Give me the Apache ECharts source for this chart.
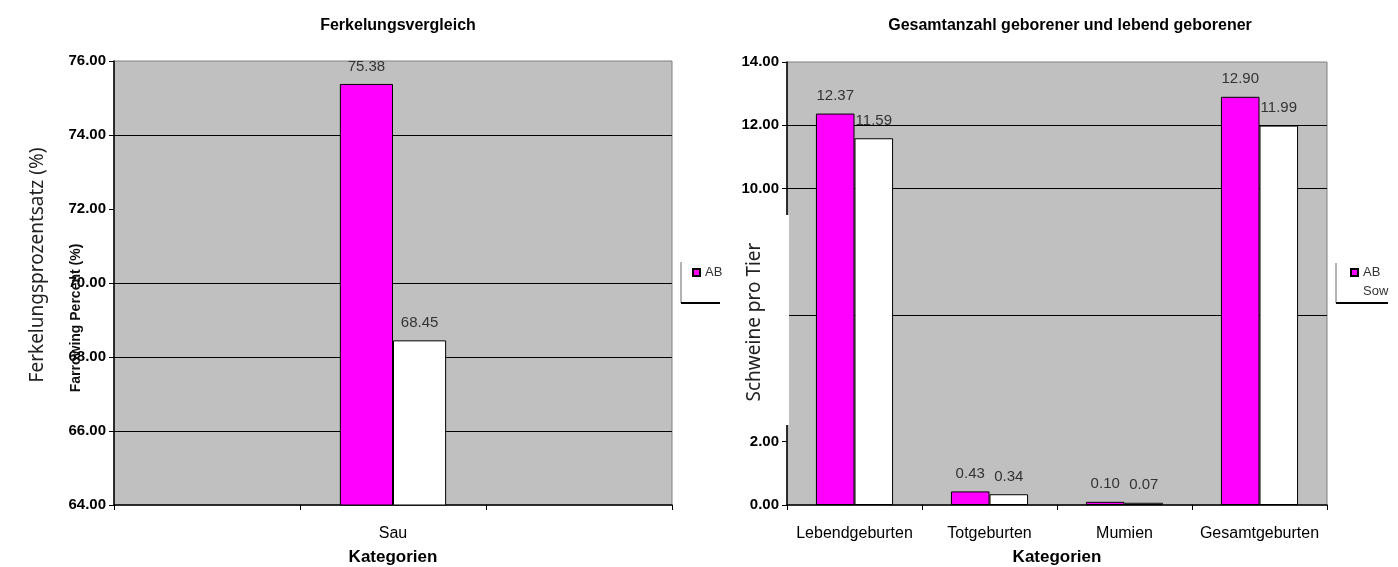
<!DOCTYPE html>
<html lang="de" style="height: 100%">
<head>
  <meta charset="utf-8">
</head>
<body style="height: 100%; margin: 0; background: #fff">
  <div id="container" style="width: 1398px; height: 567px;"></div>

  <script type="text/javascript" src="https://fastly.jsdelivr.net/npm/echarts@6.0.0/dist/echarts.min.js"></script>
  <script type="text/javascript">
    // linkes Diagramm: Ferkelungsvergleich
    var leftCategories = ['', 'Sau', ''];
    var leftAB = [null, 75.38, null];
    var leftSow = [null, 68.45, null];
    var leftTicks = [64, 66, 68, 70, 72, 74, 76];
    var leftGridAt = [66, 68, 70, 74];

    // rechtes Diagramm: Geburten pro Tier
    var rightCategories = ['Lebendgeburten', 'Totgeburten', 'Mumien', 'Gesamtgeburten'];
    var rightAB = [12.37, 0.43, 0.10, 12.90];
    var rightSow = [11.59, 0.34, 0.07, 11.99];
    var rightTicks = [0, 2, 4, 6, 8, 10, 12, 14];
    var rightGridAt = [6, 10, 12];

    var FONT = 'Liberation Sans, Arial, sans-serif';
    var MAGENTA = '#ff00ff';

    var dom = document.getElementById('container');
    var myChart = echarts.init(dom, null, { renderer: 'canvas' });

    function gridColors(ticks, visible) {
      return ticks.map(function (v) {
        return visible.indexOf(v) >= 0 ? '#000' : 'rgba(0,0,0,0)';
      });
    }

    function valueAxis(idx, ticks, visible) {
      return {
        type: 'value',
        gridIndex: idx,
        min: ticks[0],
        max: ticks[ticks.length - 1],
        interval: ticks[1] - ticks[0],
        axisLine: { show: true, lineStyle: { color: '#000', width: 1.5 } },
        axisTick: { show: true, length: 5, lineStyle: { color: '#000' } },
        axisLabel: {
          fontFamily: FONT, fontSize: 15, fontWeight: 'bold', color: '#000', margin: 8,
          formatter: function (v) { return v.toFixed(2); }
        },
        splitLine: { show: true, lineStyle: { color: gridColors(ticks, visible), width: 1 } }
      };
    }

    function catAxis(idx, cats) {
      return {
        type: 'category',
        gridIndex: idx,
        data: cats,
        axisLine: { show: true, lineStyle: { color: '#000', width: 1.5 } },
        axisTick: { show: true, length: 5, alignWithLabel: false, lineStyle: { color: '#000' } },
        axisLabel: { fontFamily: FONT, fontSize: 16, color: '#000', margin: 21, interval: 0 },
        name: 'Kategorien',
        nameLocation: 'middle',
        nameGap: 44,
        nameTextStyle: { fontFamily: FONT, fontSize: 17, fontWeight: 'bold', color: '#000' }
      };
    }

    function barSeries(name, idx, data, color) {
      return {
        name: name,
        type: 'bar',
        xAxisIndex: idx,
        yAxisIndex: idx,
        data: data,
        barGap: '0%',
        barCategoryGap: '42.86%',
        itemStyle: { color: color, borderColor: '#000', borderWidth: 1 },
        label: {
          show: true, position: 'top', distance: 10,
          fontFamily: FONT, fontSize: 15, color: '#333',
          formatter: function (p) { return p.value.toFixed(2); }
        }
      };
    }

    var legendText = { fontFamily: FONT, fontSize: 13, color: '#333' };

    var option = {
      backgroundColor: '#fff',
      animation: false,
      title: [
        { text: 'Ferkelungsvergleich', left: 393, top: 13, textAlign: 'center',
          textStyle: { fontFamily: FONT, fontSize: 16, fontWeight: 'bold', color: '#000' } },
        { text: 'Gesamtanzahl geborener und lebend geborener', left: 1065, top: 13, textAlign: 'center',
          textStyle: { fontFamily: FONT, fontSize: 16, fontWeight: 'bold', color: '#000' } }
      ],
      legend: [
        { data: ['AB'], orient: 'vertical', left: 692, top: 266, padding: 0, icon: 'rect',
          itemWidth: 7, itemHeight: 7, itemGap: 6, textStyle: legendText },
        { data: ['AB', { name: 'Sow', itemStyle: { color: '#fff', borderWidth: 0 } }],
          orient: 'vertical', left: 1350, top: 266, padding: 0, icon: 'rect',
          itemWidth: 7, itemHeight: 7, itemGap: 6, textStyle: legendText }
      ],
      grid: [
        { left: 114, top: 61, width: 558, height: 444, show: true, backgroundColor: '#c0c0c0',
          borderColor: '#808080', borderWidth: 1, outerBoundsMode: 'none' },
        { left: 787, top: 62, width: 540, height: 443, show: true, backgroundColor: '#c0c0c0',
          borderColor: '#808080', borderWidth: 1, outerBoundsMode: 'none' }
      ],
      xAxis: [catAxis(0, leftCategories), catAxis(1, rightCategories)],
      yAxis: [valueAxis(0, leftTicks, leftGridAt), valueAxis(1, rightTicks, rightGridAt)],
      series: [
        barSeries('AB', 0, leftAB, MAGENTA),
        barSeries('Sow', 0, leftSow, '#fff'),
        barSeries('AB', 1, rightAB, MAGENTA),
        barSeries('Sow', 1, rightSow, '#fff')
      ],
      graphic: [
        // uebersetzte Achsentitel liegen ueber dem Original
        { type: 'text', x: 38, y: 265, rotation: Math.PI / 2, z: 100,
          style: { text: 'Ferkelungsprozentsatz (%)', fontFamily: 'Noto Sans, sans-serif', fontSize: 19,
            fill: '#222', align: 'center', verticalAlign: 'middle' } },
        { type: 'text', x: 76, y: 318, rotation: Math.PI / 2, z: 100,
          style: { text: 'Farrowing Percent (%)', fontFamily: FONT, fontSize: 14, fontWeight: 'bold',
            fill: '#111', align: 'center', verticalAlign: 'middle' } },
        { type: 'rect', z: 100, shape: { x: 728, y: 215, width: 61, height: 210 }, style: { fill: '#fff' } },
        { type: 'text', x: 755, y: 322, rotation: Math.PI / 2, z: 101,
          style: { text: 'Schweine pro Tier', fontFamily: 'Noto Sans, sans-serif', fontSize: 19,
            fill: '#222', align: 'center', verticalAlign: 'middle' } },
        // Legendenrahmen (nur links und unten sichtbar)
        { type: 'line', z: 100, shape: { x1: 681, y1: 262, x2: 681, y2: 303 }, style: { stroke: '#666', lineWidth: 1 } },
        { type: 'line', z: 100, shape: { x1: 681, y1: 303, x2: 720, y2: 303 }, style: { stroke: '#000', lineWidth: 2 } },
        { type: 'line', z: 100, shape: { x1: 1336, y1: 263, x2: 1336, y2: 303 }, style: { stroke: '#666', lineWidth: 1 } },
        { type: 'line', z: 100, shape: { x1: 1336, y1: 303, x2: 1388, y2: 303 }, style: { stroke: '#000', lineWidth: 2 } }
      ]
    };

    myChart.setOption(option);
    window.addEventListener('resize', myChart.resize);
  </script>
</body>
</html>
